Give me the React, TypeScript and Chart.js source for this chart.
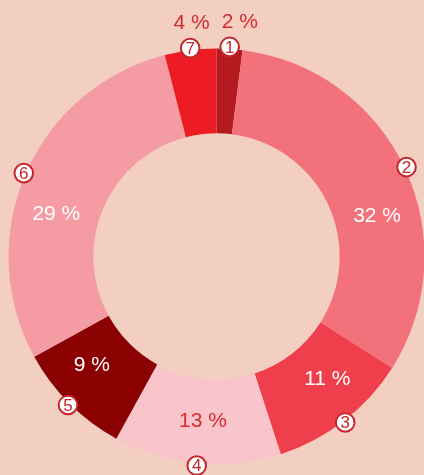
import React, { useEffect, useRef } from "react";
import { Chart, registerables } from "chart.js";

Chart.register(...registerables);

const categories = ["1", "2", "3", "4", "5", "6", "7"];
const values = [2, 32, 11, 13, 9, 29, 4];

const sliceColors = ["#B31B21", "#F2717A", "#EF3F4C", "#F9C5CB", "#8B0000", "#F59BA3", "#ED1C24"];
const labelColors = ["#D42A31", "#FFFFFF", "#FFFFFF", "#D42A31", "#FFFFFF", "#FFFFFF", "#D42A31"];
// layout tweak for percent labels (degrees, added to the slice mid-angle)
const labelAngleNudge = [2.1, 11.1, -4.2, -0.7, 3.9, -8.75, 1.1];
const BG = "#F2CFC0";
const MARK = "#C4262C";

const labelPlugin = {
  id: "sliceLabels",
  afterDatasetsDraw(chart: any) {
    const ctx = chart.ctx;
    const meta = chart.getDatasetMeta(0);
    const data = chart.data.datasets[0].data as number[];
    const total = data.reduce((a, b) => a + b, 0);
    ctx.save();
    ctx.textAlign = "center";
    ctx.textBaseline = "middle";
    meta.data.forEach((arc: any, i: number) => {
      const p = arc.getProps(["x", "y", "startAngle", "endAngle", "innerRadius", "outerRadius"], true);
      const mid = (p.startAngle + p.endAngle) / 2 + (labelAngleNudge[i] * Math.PI) / 180;
      const pct = Math.round((data[i] / total) * 100);
      const inside = pct >= 5;
      const r = inside ? (p.innerRadius + p.outerRadius) / 2 : p.outerRadius + 27;
      ctx.font = "21px 'Liberation Sans', Arial, sans-serif";
      ctx.fillStyle = labelColors[i];
      ctx.fillText(pct + " %", p.x + Math.cos(mid) * r, p.y + Math.sin(mid) * r);
    });
    meta.data.forEach((arc: any, i: number) => {
      const p = arc.getProps(["x", "y", "startAngle", "endAngle", "outerRadius"], true);
      const mid = (p.startAngle + p.endAngle) / 2;
      const cx = p.x + Math.cos(mid) * (p.outerRadius + 2);
      const cy = p.y + Math.sin(mid) * (p.outerRadius + 2);
      ctx.beginPath();
      ctx.arc(cx, cy, 9.3, 0, Math.PI * 2);
      ctx.fillStyle = "#FFFFFF";
      ctx.fill();
      ctx.lineWidth = 2;
      ctx.strokeStyle = MARK;
      ctx.stroke();
      ctx.font = "17px 'Liberation Sans', Arial, sans-serif";
      ctx.fillStyle = MARK;
      ctx.fillText(chart.data.labels[i], cx, cy + 1);
    });
    ctx.restore();
  },
};

export default function App() {
  const ref = useRef<HTMLCanvasElement>(null);
  useEffect(() => {
    if (!ref.current) return;
    const chart = new Chart(ref.current, {
      type: "doughnut",
      data: {
        labels: categories,
        datasets: [
          {
            data: values,
            backgroundColor: sliceColors,
            borderWidth: 0,
          },
        ],
      },
      options: {
        animation: false,
        responsive: false,
        radius: 208,
        cutout: "59.2%",
        layout: { padding: { left: 9, right: 0, top: 38, bottom: 0 } },
        plugins: {
          legend: { display: false },
          tooltip: { enabled: false },
        },
      },
      plugins: [labelPlugin],
    });
    return () => chart.destroy();
  }, []);
  return (
    <div style={{ position: "fixed", left: 0, top: 0, width: 424, height: 475, background: BG, overflow: "hidden" }}>
      <canvas ref={ref} width={424} height={475} style={{ display: "block" }} />
    </div>
  );
}
